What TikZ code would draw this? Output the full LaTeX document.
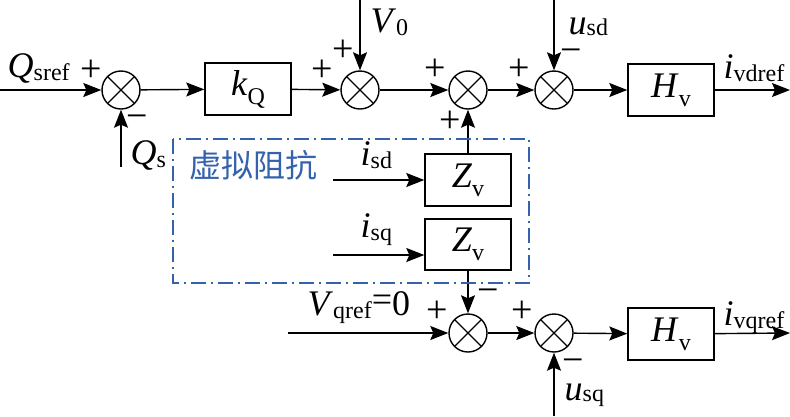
\documentclass[tikz,border=0pt]{standalone}
\usepackage{fontspec}
\setmainfont{Liberation Serif}
\newfontfamily\cjk{Noto Sans CJK SC}
\usetikzlibrary{arrows.meta}
\definecolor{vzblue}{RGB}{52,98,172}
\newcommand{\mainsz}{\fontsize{36}{40}\selectfont}
\newcommand{\subsz}{\fontsize{24}{26}\selectfont}
\newcommand{\lbl}[3][-3pt]{\textit{#2}\raisebox{#1}{\subsz #3}}
\begin{document}
\begin{tikzpicture}[x=1pt,y=-1pt,
  line width=1.4pt,
  arr/.style={-{Stealth[length=18pt,width=14pt,inset=3pt]}},
  sumnode/.style={circle,draw,minimum size=38pt,inner sep=0pt,
    path picture={\draw[line width=1.3pt] (path picture bounding box.north west)--(path picture bounding box.south east)
      (path picture bounding box.north east)--(path picture bounding box.south west);}},
  blk/.style={draw,minimum width=86pt,minimum height=52pt,inner sep=0pt,font=\mainsz},
  txt/.style={inner sep=0pt,font=\mainsz,anchor=base west},
  sgn/.style={inner sep=0pt,font=\fontsize{38}{38}\selectfont}]
\useasboundingbox (0,0) rectangle (790,416);

% summing junctions
\node[sumnode] (s1) at (121,90) {};
\node[sumnode] (s2) at (360,90) {};
\node[sumnode] (s3) at (468,90) {};
\node[sumnode] (s4) at (554,90) {};
\node[sumnode] (s5) at (468,333) {};
\node[sumnode] (s6) at (554,333) {};

% blocks
\node[blk] (kq) at (248,89) {\lbl[-9pt]{k}{Q}};
\node[blk] (hv1) at (671,90) {\lbl[-9pt]{H}{v}};
\node[blk] (zv1) at (468,180) {\lbl[-9pt]{Z}{v}};
\node[blk,minimum height=51pt] (zv2) at (468,244.5) {\lbl[-9pt]{Z}{v}};
\node[blk] (hv2) at (671,334) {\lbl[-9pt]{H}{v}};

% free ends
\coordinate (qin) at (0,90);
\coordinate (qs) at (121,167);
\coordinate (v0) at (360,0);
\coordinate (usd) at (554,0);
\coordinate (out1) at (790,90);
\coordinate (isd) at (333,180);
\coordinate (isq) at (333,255);
\coordinate (vq) at (288,333);
\coordinate (usq) at (554,416);
\coordinate (out2) at (790,333);

% connectors top row
\draw[arr] (qin) -- (s1);
\draw[arr] (qs) -- (s1);
\draw[arr] (s1) -- (kq);
\draw[arr] (kq) -- (s2);
\draw[arr] (v0) -- (s2);
\draw[arr] (s2) -- (s3);
\draw[arr] (s3) -- (s4);
\draw[arr] (usd) -- (s4);
\draw[arr] (s4) -- (hv1);
\draw[arr] (hv1) -- (out1);
\draw[arr] (zv1) -- (s3);
\draw[arr] (isd) -- (zv1.west);
\draw[arr] (isq) -- (isq -| zv2.west);
% bottom row
\draw[arr] (zv2) -- (s5);
\draw[arr] (vq) -- (s5);
\draw[arr] (s5) -- (s6);
\draw[arr] (usq) -- (s6);
\draw[arr] (s6) -- (hv2);
\draw[arr] (hv2) -- (out2);

% virtual impedance frame
\draw[vzblue,line width=1.1pt,dash pattern=on 15pt off 5pt on 2pt off 5pt]
  (173,139) rectangle (529,283);
\node[inner sep=0pt,text=vzblue,font=\cjk\fontsize{32}{34}\selectfont] (vztxt) at (253,165) {虚拟阻抗};

% labels
\node[txt] (lqsref) at (7,77) {\lbl{Q}{sref}};
\node[txt] (lqs) at (130,164) {\lbl{Q}{s}};
\node[txt] (lv0) at (370,32) {\lbl{V}{0}};
\node[txt] (lusd) at (568,34) {\lbl[-1pt]{u}{sd}};
\node[txt] (livd) at (723,78) {\lbl{i}{vdref}};
\node[txt] (lisd) at (360,165) {\lbl{i}{sd}};
\node[txt] (lisq) at (360,237) {\lbl{i}{sq}};
\node[txt] (lvq) at (307,315) {\lbl{V}{qref}\raisebox{4pt}{=}0};
\node[txt] (lusq) at (564,400) {\lbl[-1pt]{u}{sq}};
\node[txt] (livq) at (723,325) {\lbl{i}{vqref}};

% signs
\node[sgn] (p1) at (91,71) {+};
\node[sgn] (m1) at (137,122) {−};
\node[sgn] (p2a) at (343,51) {+};
\node[sgn] (p2b) at (322,71) {+};
\node[sgn] (p3a) at (435,70) {+};
\node[sgn] (p3b) at (450,122) {+};
\node[sgn] (p4) at (519,70) {+};
\node[sgn] (m4) at (571,56) {−};
\node[sgn] (p5) at (437,312) {+};
\node[sgn] (m5) at (488,296) {−};
\node[sgn] (p6) at (522,312) {+};
\node[sgn] (m6) at (573,366) {−};
\end{tikzpicture}
\end{document}
